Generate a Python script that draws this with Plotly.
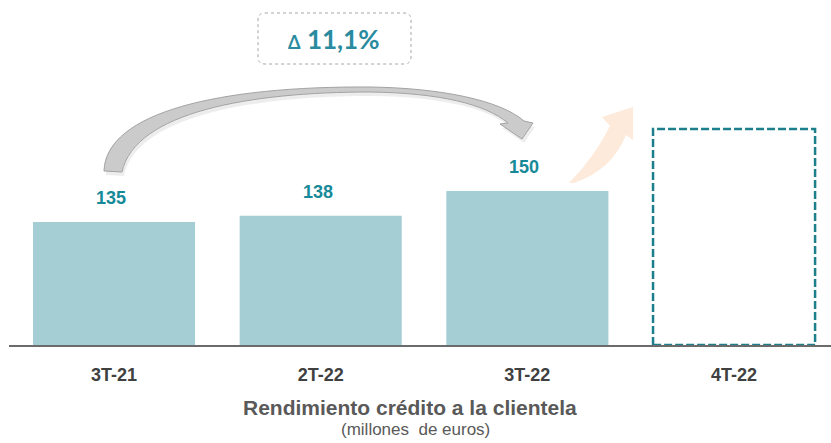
import plotly.graph_objects as go

# Données du graphique
trimestres = ["3T-21", "2T-22", "3T-22", "4T-22"]
rendimiento = [135, 138, 150]
valor_pendiente = 180          # cadre en pointillés (4T-22, non publié)
variacion = "11,1%"

titulo = "Rendimiento crédito a la clientela"
subtitulo = "(millones  de euros)"

# Mise en page (pixels)
ANCHO, ALTO = 831, 443
M_IZQ, M_DER, M_SUP, M_INF = 9, 0, 0, 98
AREA_W = ANCHO - M_IZQ - M_DER
AREA_H = ALTO - M_SUP - M_INF

Y_MIN, Y_MAX = 75.5, 242.4
ANCHO_BARRA = 0.784

FUENTE = "Liberation Sans, Arial, sans-serif"
COLOR_BARRA = "#A4CDD4"
COLOR_VALOR = "#178A99"
COLOR_CADRE = "#1D7F8C"


def px_a_papel(x, y):
    """Convertit des pixels de la fenêtre en coordonnées 'paper'."""
    return (x - M_IZQ) / AREA_W, (ALTO - M_INF - y) / AREA_H


def construir_ruta(comandos, dx=0, dy=0):
    """Construit une chaîne de path SVG en coordonnées 'paper'."""
    partes = []
    for cmd in comandos:
        letra, puntos = cmd[0], cmd[1:]
        coords = []
        for (x, y) in puntos:
            px, py = px_a_papel(x + dx, y + dy)
            coords.append(f"{px:.5f},{py:.5f}")
        partes.append(letra + " ".join(coords))
    return " ".join(partes)


# Flèche grise courbée (3T-21 -> 3T-22)
flecha_gris = [
    ("M", (104, 171)),
    ("C", (106, 112), (220, 86), (370, 87)),
    ("C", (440, 88), (500, 100), (524, 121)),
    ("L", (533, 123)),
    ("L", (522, 139)),
    ("L", (500, 124)),
    ("L", (508, 123)),
    ("C", (485, 104), (440, 93), (370, 92)),
    ("C", (250, 92), (135, 112), (122, 172)),
    ("Z",),
]

# Flèche pêche vers 4T-22
flecha_melocoton = [
    ("M", (569, 183)),
    ("Q", (594, 158), (610, 126)),
    ("L", (602, 117)),
    ("L", (633, 107)),
    ("L", (633, 140)),
    ("L", (626, 135)),
    ("Q", (612, 170), (574, 183)),
    ("Z",),
]

# Cadre arrondi de la variation
x0, y0, x1, y1, r = 258, 13, 411, 64, 7
cuadro_var = [
    ("M", (x0 + r, y0)),
    ("L", (x1 - r, y0)),
    ("Q", (x1, y0), (x1, y0 + r)),
    ("L", (x1, y1 - r)),
    ("Q", (x1, y1), (x1 - r, y1)),
    ("L", (x0 + r, y1)),
    ("Q", (x0, y1), (x0, y1 - r)),
    ("L", (x0, y0 + r)),
    ("Q", (x0, y0), (x0 + r, y0)),
    ("Z",),
]

fig = go.Figure()

# Barres
fig.add_trace(go.Bar(
    x=list(range(len(rendimiento))),
    y=rendimiento,
    width=ANCHO_BARRA,
    marker=dict(color=COLOR_BARRA, line=dict(width=0)),
    hoverinfo="skip",
))

# Cadre en pointillés pour 4T-22
i = len(trimestres) - 1
xa, xb = i - ANCHO_BARRA / 2, i + ANCHO_BARRA / 2
fig.add_trace(go.Scatter(
    x=[xa, xa, xb, xb, xa],
    y=[Y_MIN, valor_pendiente, valor_pendiente, Y_MIN, Y_MIN],
    mode="lines",
    line=dict(color=COLOR_CADRE, width=2.5, dash="8px,3px"),
    cliponaxis=False,
    hoverinfo="skip",
))

# Étiquettes de valeur
for idx, v in enumerate(rendimiento):
    fig.add_annotation(
        x=idx, y=v, text=str(v), showarrow=False,
        xanchor="center", yanchor="middle", yshift=24, xshift=-3,
        font=dict(family=FUENTE, size=18, color=COLOR_VALOR, weight="bold"),
    )

# Variation
tx, ty = px_a_papel(334, 39)
fig.add_annotation(
    x=tx, y=ty, xref="paper", yref="paper", showarrow=False,
    xanchor="center", yanchor="middle",
    text=f"<span style='font-size:18px'>\u0394</span> {variacion}",
    font=dict(family="Lato, Open Sans, sans-serif", size=26, color="#2A8BA0", weight="bold"),
)

# Titre et sous-titre
tx, ty = px_a_papel(410, 407)
fig.add_annotation(
    x=tx, y=ty, xref="paper", yref="paper", showarrow=False,
    xanchor="center", yanchor="middle",
    text=titulo,
    font=dict(family=FUENTE, size=21, color="#595959", weight="bold"),
)
tx, ty = px_a_papel(415, 429)
fig.add_annotation(
    x=tx, y=ty, xref="paper", yref="paper", showarrow=False,
    xanchor="center", yanchor="middle",
    text=subtitulo,
    font=dict(family=FUENTE, size=17, color="#595959"),
)

formas = [
    dict(type="path", xref="paper", yref="paper", path=construir_ruta(flecha_gris, 2, 4),
         fillcolor="rgba(0,0,0,0.07)", line=dict(width=0), layer="below"),
    dict(type="path", xref="paper", yref="paper", path=construir_ruta(flecha_gris),
         fillcolor="#CBCBCB", line=dict(color="#A3A3A3", width=1)),
    dict(type="path", xref="paper", yref="paper", path=construir_ruta(flecha_melocoton),
         fillcolor="#FDEADB", line=dict(width=0)),
    dict(type="path", xref="paper", yref="paper", path=construir_ruta(cuadro_var),
         fillcolor="rgba(0,0,0,0)", line=dict(color="#A6A6A6", width=1, dash="dot")),
]

fig.update_layout(
    width=ANCHO, height=ALTO,
    margin=dict(l=M_IZQ, r=M_DER, t=M_SUP, b=M_INF),
    paper_bgcolor="white", plot_bgcolor="white",
    showlegend=False,
    shapes=formas,
    xaxis=dict(
        range=[-0.508, 3.469],
        tickvals=list(range(len(trimestres))),
        ticktext=trimestres,
        showgrid=False, zeroline=False,
        showline=True, linecolor="#6B6B6B", linewidth=2,
        ticks="", ticklabelstandoff=12,
        tickfont=dict(family=FUENTE, size=18, color="#404040", weight="bold"),
        fixedrange=True,
    ),
    yaxis=dict(range=[Y_MIN, Y_MAX], visible=False, fixedrange=True),
)

fig.write_html(
    "out.html",
    config={"displayModeBar": False},
    post_script="document.body.style.margin='0';",
)
